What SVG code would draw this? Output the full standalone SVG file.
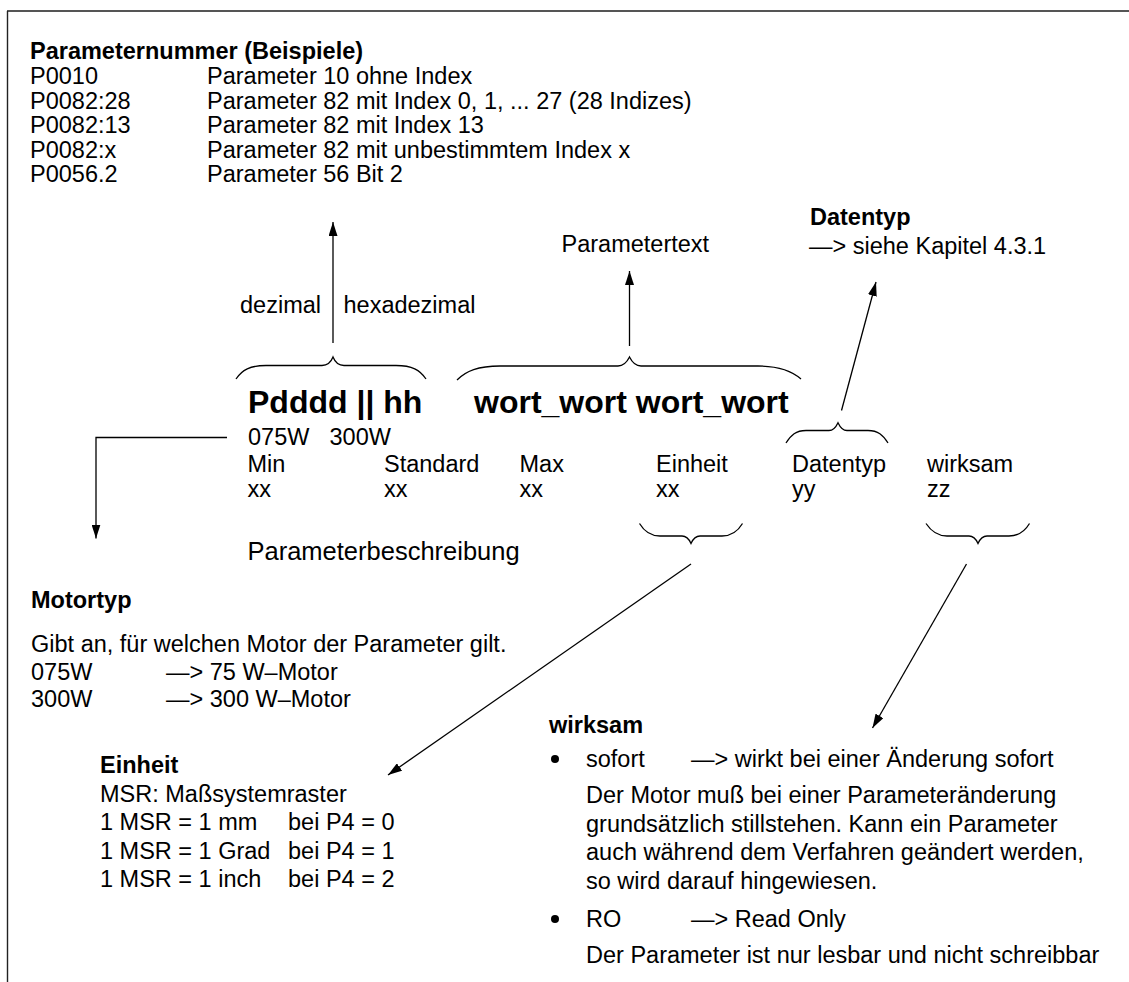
<svg xmlns="http://www.w3.org/2000/svg" width="1129" height="982" viewBox="0 0 1129 982">
  <style>
    text { font-family: "Liberation Sans", Arial, sans-serif; font-size: 23.5px; fill: #000; }
    .b { font-weight: bold; }
    .big { font-weight: bold; font-size: 32px; }
    .desc { font-size: 25.5px; }
    .brace { fill: none; stroke: #000; stroke-width: 1.3; }
    .arrow { fill: none; stroke: #000; stroke-width: 1.3; marker-end: url(#head); }
  </style>
  <defs>
    <marker id="head" viewBox="0 0 14 9" refX="14" refY="4.5" markerWidth="14" markerHeight="9" markerUnits="userSpaceOnUse" orient="auto">
      <path d="M0,0 L14,4.5 L0,9 z" fill="#000"/>
    </marker>
  </defs>

  <!-- page frame: grey rule on top, thin rule on the left -->
  <g id="frame">
    <line x1="7" y1="11" x2="1129" y2="11" stroke="#555" stroke-width="2.2"/>
    <line x1="7.5" y1="11" x2="7.5" y2="982" stroke="#222" stroke-width="1.4"/>
  </g>

  <!-- parameter number examples -->
  <g id="parameternummer">
    <text class="b" x="30" y="59">Parameternummer (Beispiele)</text>
    <text x="30" y="84">P0010</text>
    <text x="207" y="84">Parameter 10 ohne Index</text>
    <text x="30" y="108.5">P0082:28</text>
    <text x="207" y="108.5">Parameter 82 mit Index 0, 1, ... 27 (28 Indizes)</text>
    <text x="30" y="133">P0082:13</text>
    <text x="207" y="133">Parameter 82 mit Index 13</text>
    <text x="30" y="157.5">P0082:x</text>
    <text x="207" y="157.5">Parameter 82 mit unbestimmtem Index x</text>
    <text x="30" y="182">P0056.2</text>
    <text x="207" y="182">Parameter 56 Bit 2</text>
  </g>

  <g id="zahlensystem">
    <text x="321" y="313" text-anchor="end">dezimal</text>
    <text x="343.5" y="313">hexadezimal</text>
  </g>

  <g id="parametertext">
    <text x="561.5" y="251.5">Parametertext</text>
  </g>

  <g id="datentyp-info">
    <text class="b" x="810" y="225">Datentyp</text>
    <text x="809" y="253.5">—&gt; siehe Kapitel 4.3.1</text>
  </g>

  <!-- parameter header line -->
  <g id="kopfzeile">
    <path class="brace" d="M236,379 C242,370 250,365.5 266,365.5 L322,365.5 C328,365.5 331,362 333,357 C335,362 338,365.5 344,365.5 L396,365.5 C412,365.5 420,370 426,379"/>
    <path class="brace" d="M457,380 C466,371 478,366 500,366 L618,366 C624,366 627,362 629.5,357 C632,362 635,366 641,366 L758,366 C780,366 792,371 801,379"/>
    <text class="big" x="248" y="413">Pdddd || hh</text>
    <text class="big" x="474" y="413">wort_wort wort_wort</text>
    <text x="248" y="445">075W</text>
    <text x="329.5" y="445">300W</text>
  </g>

  <g id="wertetabelle">
    <text x="247.5" y="471.5">Min</text>
    <text x="384" y="471.5">Standard</text>
    <text x="519.5" y="471.5">Max</text>
    <text x="656" y="471.5">Einheit</text>
    <text x="792" y="471.5">Datentyp</text>
    <text x="927" y="471.5">wirksam</text>
    <text x="247.5" y="497">xx</text>
    <text x="384" y="497">xx</text>
    <text x="519.5" y="497">xx</text>
    <text x="656" y="497">xx</text>
    <text x="792" y="497">yy</text>
    <text x="927" y="497">zz</text>
    <!-- brace over Datentyp -->
    <path class="brace" d="M786,443 C791,435 796,430.5 806,430.5 L829,430.5 C833,430.5 836,427 838,422.7 C840,427 843,430.5 847,430.5 L868,430.5 C878,430.5 883,435 888,443"/>
    <!-- braces under Einheit and wirksam -->
    <path class="brace" d="M639.5,523.5 C644,531 650,536 660,536 L682,536 C686,536 689,539 691,543.5 C693,539 696,536 700,536 L722,536 C732,536 738,531 742.5,523.5"/>
    <path class="brace" d="M926,523.5 C931,531 937,536 947,536 L969,536 C973,536 976,539 978,543.5 C980,539 983,536 987,536 L1009,536 C1019,536 1025,531 1029.5,523.5"/>
  </g>

  <g id="parameterbeschreibung">
    <text class="desc" x="247.5" y="560">Parameterbeschreibung</text>
  </g>

  <g id="motortyp">
    <text class="b" x="31" y="608">Motortyp</text>
    <text x="31" y="652">Gibt an, für welchen Motor der Parameter gilt.</text>
    <text x="31" y="680">075W</text>
    <text x="166" y="680">—&gt; 75 W–Motor</text>
    <text x="31" y="707">300W</text>
    <text x="166" y="707">—&gt; 300 W–Motor</text>
  </g>

  <g id="einheit">
    <text class="b" x="100" y="773">Einheit</text>
    <text x="100" y="801.5">MSR: Maßsystemraster</text>
    <text x="100" y="830">1 MSR = 1 mm</text>
    <text x="288" y="830">bei P4 = 0</text>
    <text x="100" y="858.5">1 MSR = 1 Grad</text>
    <text x="288" y="858.5">bei P4 = 1</text>
    <text x="100" y="886.5">1 MSR = 1 inch</text>
    <text x="288" y="886.5">bei P4 = 2</text>
  </g>

  <g id="wirksam">
    <text class="b" x="549" y="733">wirksam</text>
    <circle cx="555" cy="759" r="4"/>
    <text x="586" y="767">sofort</text>
    <text x="691" y="767">—&gt; wirkt bei einer Änderung sofort</text>
    <text x="586" y="803">Der Motor muß bei einer Parameteränderung</text>
    <text x="586" y="831.5">grundsätzlich stillstehen. Kann ein Parameter</text>
    <text x="586" y="860">auch während dem Verfahren geändert werden,</text>
    <text x="586" y="888.5">so wird darauf hingewiesen.</text>
    <circle cx="555" cy="919" r="4"/>
    <text x="586" y="927">RO</text>
    <text x="691" y="927">—&gt; Read Only</text>
    <text x="586" y="963">Der Parameter ist nur lesbar und nicht schreibbar</text>
  </g>

  <!-- connectors -->
  <g id="connectors">
    <line class="arrow" x1="333" y1="343" x2="333" y2="222"/>
    <line class="arrow" x1="629.5" y1="346" x2="629.5" y2="271"/>
    <line class="arrow" x1="841.5" y1="410.5" x2="876" y2="282"/>
    <line class="arrow" x1="691" y1="564" x2="388" y2="775"/>
    <line class="arrow" x1="966.5" y1="564" x2="872.5" y2="728"/>
    <polyline class="arrow" points="227,437.5 96,437.5 96,538.5"/>
  </g>
</svg>
